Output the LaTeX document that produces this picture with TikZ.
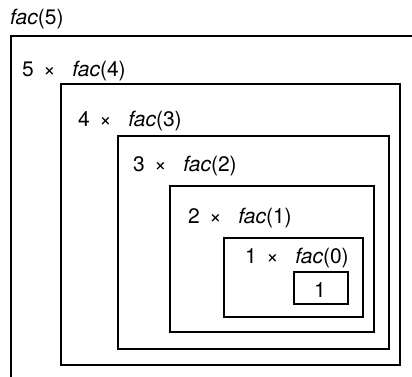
\documentclass[tikz,border=0pt]{standalone}
\usepackage{fontspec}
\setmainfont{TeX Gyre Heros}
\newcommand{\fac}[1]{\textit{fac}(#1)}
\newcommand{\mul}[1]{#1\kern0.45em×\kern0.8em}
\begin{document}
\begin{tikzpicture}[x=1pt,y=-1pt,
    frame/.style={line width=1.5pt},
    call/.style={anchor=base west,inner sep=0pt,font=\fontsize{21}{25}\selectfont}]
    \useasboundingbox (0,0) rectangle (412,377);
    \draw[frame] (412,36) -- (11,36) -- (11,377);
    \draw[frame] (61,84) rectangle (400,365);
    \draw[frame] (118,136) rectangle (389,349);
    \draw[frame] (170,186) rectangle (374,332);
    \draw[frame] (224,238) rectangle (363,317);
    \draw[frame] (294,272) rectangle (348,304);
    \node[call] (f5) at (10,25) {\fac{5}};
    \node[call] (f4) at (22,77) {\mul{5}\fac{4}};
    \node[call] (f3) at (78,127) {\mul{4}\fac{3}};
    \node[call] (f2) at (133,171) {\mul{3}\fac{2}};
    \node[call] (f1) at (188,223) {\mul{2}\fac{1}};
    \node[call] (f0) at (245,263) {\mul{1}\fac{0}};
    \node[call] (one) at (314,297) {1};
\end{tikzpicture}
\end{document}
